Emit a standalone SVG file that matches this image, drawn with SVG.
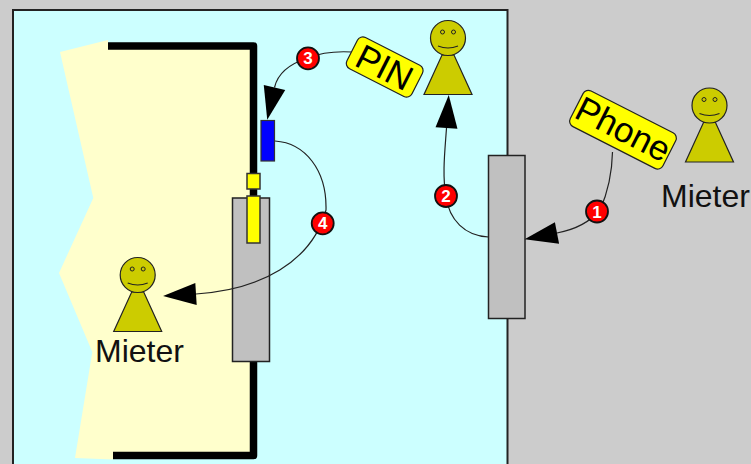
<svg xmlns="http://www.w3.org/2000/svg" width="751" height="464" viewBox="0 0 751 464">
<style>
text{font-family:"Liberation Sans",Arial,sans-serif}
.lbl{font-size:32px;fill:#111}
.door{fill:#c0c0c0;stroke:#222;stroke-width:1.5}
.ylw{fill:#ff0;stroke:#333;stroke-width:1.5}
.conn{fill:none;stroke:#222;stroke-width:1.2}
.num circle{fill:#f00;stroke:#111;stroke-width:1.8}
.num text{font-size:17px;font-weight:bold;fill:#fff;text-anchor:middle}
.badge rect{fill:#ff0;stroke:#222;stroke-width:1.2}
.badge text{font-size:35px;text-anchor:middle;fill:#000}
</style>
<defs>
<marker id="arrow" markerUnits="userSpaceOnUse" markerWidth="33" markerHeight="22" refX="0" refY="11" orient="auto" overflow="visible"><polygon points="0,0 33,11 0,22" fill="#000"/></marker>
<g id="person">
<polygon points="-24,56.500 24,56.500 6,17 -6,17" fill="#cc0" stroke="#222" stroke-width="1.2"/>
<circle r="17.500" fill="#cc0" stroke="#222" stroke-width="1.2"/>
<circle cx="-5.500" cy="-6" r="2" fill="#cc0" stroke="#222"/>
<circle cx="5.500" cy="-6" r="2" fill="#cc0" stroke="#222"/>
<path d="M-10 8Q0 12 10 8" fill="none" stroke="#222" stroke-width="1.2"/>
</g>
</defs>
<rect width="751" height="464" fill="#ccc"/>
<g id="room"><rect x="13" y="10" width="494.500" height="500" fill="#cff" stroke="#222" stroke-width="2"/></g>
<g id="inside"><polygon points="60,52 108,40 108,46 254,46 254,455 113,455 113,459.500 75,458 92.300,352 59,273 93.300,198" fill="#ffc"/></g>
<g id="wall"><path d="M108 46H253.500V455.500H113" fill="none" stroke="#000" stroke-width="7.500" stroke-linejoin="round"/></g>
<g id="door-inner"><rect class="door" x="232.500" y="198" width="37" height="163.500"/></g>
<g id="door-outer"><rect class="door" x="488.500" y="155.500" width="36.500" height="163"/></g>
<g id="lock-top"><rect class="ylw" x="247" y="173.500" width="13" height="15.500"/></g>
<g id="lock-bolt"><rect class="ylw" x="247" y="196" width="13" height="47"/></g>
<g id="reader"><rect x="261" y="120.500" width="13.500" height="40.500" fill="#00f" stroke="#333" stroke-width="1.2"/></g>
<g id="connectors">
<path class="conn" marker-end="url(#arrow)" d="M612.500 152C612 175 608 192 600 210C590 222 575 229.500 557 233"/>
<path class="conn" marker-end="url(#arrow)" d="M488.500 237C465 236 449 220 446 196C442 175 445 150 446.500 128"/>
<path class="conn" marker-end="url(#arrow)" d="M352 52C335 51 320 53 308 58C292 63 278 72 274.500 87.500"/>
<path class="conn" marker-end="url(#arrow)" d="M275 141C305 143 327 170 326 210C312 262 260 290 196 294"/>
</g>
<g id="person-top"><use href="#person" x="448" y="38"/></g>
<g id="person-right"><use href="#person" x="709.500" y="105.500"/><text class="lbl" x="661" y="207">Mieter</text></g>
<g id="person-inside"><use href="#person" x="137.700" y="275"/><text class="lbl" x="95" y="362">Mieter</text></g>
<g id="badge-pin" class="badge" transform="translate(384.700 67) rotate(27)"><rect x="-36.500" y="-17.500" width="73" height="35" rx="6"/><text y="12.500">PIN</text></g>
<g id="badge-phone" class="badge" transform="translate(623 129.700) rotate(27)"><rect x="-52" y="-20" width="104" height="40" rx="6"/><text y="11.500">Phone</text></g>
<g id="num-1" class="num"><circle cx="597" cy="211.500" r="11"/><text x="597" y="217.500">1</text></g>
<g id="num-2" class="num"><circle cx="446" cy="196" r="11"/><text x="446" y="202">2</text></g>
<g id="num-3" class="num"><circle cx="308" cy="58.300" r="11"/><text x="308" y="64.300">3</text></g>
<g id="num-4" class="num"><circle cx="322.700" cy="223.300" r="11"/><text x="322.700" y="229.300">4</text></g>
</svg>
